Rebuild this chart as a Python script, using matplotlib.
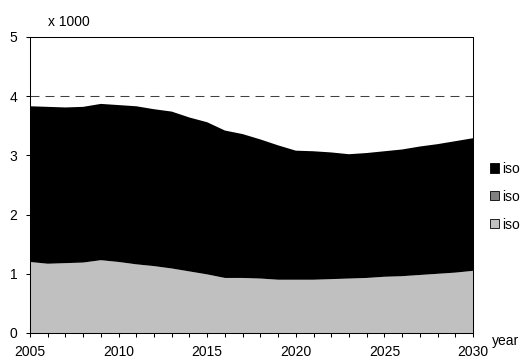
import numpy as np
import matplotlib.pyplot as plt
from matplotlib.patches import Patch

plt.rcParams['font.family'] = ['Liberation Sans', 'DejaVu Sans']
plt.rcParams['font.size'] = 10

# data (x 1000)
years = list(range(2005, 2031))
total = [3.83, 3.82, 3.81, 3.82, 3.87, 3.85, 3.83, 3.78, 3.74, 3.64,
         3.56, 3.42, 3.36, 3.27, 3.17, 3.08, 3.07, 3.05, 3.02, 3.04,
         3.07, 3.10, 3.15, 3.19, 3.24, 3.29]
light = [1.20, 1.17, 1.18, 1.19, 1.23, 1.20, 1.16, 1.13, 1.09, 1.04,
         0.99, 0.93, 0.93, 0.92, 0.90, 0.90, 0.90, 0.91, 0.92, 0.93,
         0.95, 0.96, 0.98, 1.00, 1.02, 1.05]
mid = [0.0] * len(years)
labels = ['iso', 'iso', 'iso']  # only this much is visible in the reference
colors = ['#000000', '#808080', '#c0c0c0']
limit = 4.0

top = np.array(total) - np.array(light) - np.array(mid)

fig = plt.figure(figsize=(5.2, 3.58), dpi=100)
ax = fig.add_axes([30/520, 25/358, 443/520, 296/358])

ax.stackplot(years, light, mid, top, colors=colors[::-1], linewidth=0)
ax.axhline(limit, color='#404040', lw=0.75, ls=(0, (8.6, 5.8)))

ax.set_xlim(2005, 2030)
ax.set_ylim(0, 5)
ax.set_xticks(range(2005, 2031, 5))
ax.set_xticks(years, minor=True)
ax.set_yticks(range(0, 6))
ax.tick_params(axis='both', which='both', direction='out', length=3, width=0.75, color='black')
ax.tick_params(axis='x', which='both', pad=5.5)
ax.tick_params(axis='y', pad=6)
for s in ax.spines.values():
    s.set_linewidth(0.75)
    s.set_color('black')

fig.text(48/520, 1 - 21.7/358, 'x 1000', va='center', ha='left')
fig.text(492/520, 1 - 341/358, 'year', va='center', ha='left')

handles = [Patch(facecolor=c, edgecolor='black', linewidth=0.6) for c in colors]
fig.legend(handles, labels, loc='center left', bbox_to_anchor=(490/520, 1 - 196.7/358),
           frameon=False, handlelength=0.65, handleheight=0.65, handletextpad=0.2,
           labelspacing=1.0, borderpad=0, borderaxespad=0)

fig.savefig('out.png', dpi=100)
